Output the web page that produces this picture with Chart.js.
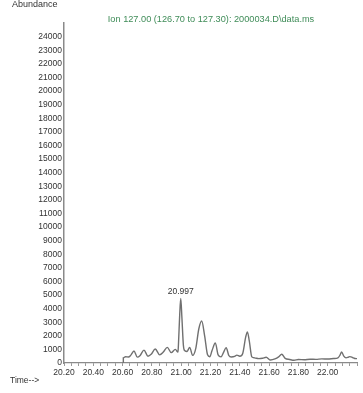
<!DOCTYPE html>
<html>
<head>
<meta charset="utf-8">
<script src="https://cdn.jsdelivr.net/npm/chart.js@4/dist/chart.umd.min.js"></script>
<style>
  html, body { margin: 0; padding: 0; background: #fff; }
  canvas { display: block; }
</style>
</head>
<body>
<canvas id="tic" width="363" height="393"></canvas>
<script>
// Extracted ion chromatogram, m/z 127.00 window
const ionTitle = 'Ion 127.00 (126.70 to 127.30): 2000034.D\\data.ms';
const yAxisTitle = 'Abundance';
const xAxisTitle = 'Time-->';

// retention time (min)
const times = [
  20.605, 20.605, 20.620, 20.640, 20.655, 20.678, 20.700, 20.720, 20.746, 20.773,
  20.795, 20.823, 20.853, 20.878, 20.905, 20.932, 20.960, 20.978, 20.981, 20.990,
  20.997, 21.005, 21.015, 21.025, 21.040, 21.058, 21.078, 21.100, 21.120, 21.140,
  21.160, 21.180, 21.195, 21.210, 21.233, 21.252, 21.272, 21.290, 21.307, 21.325,
  21.342, 21.365, 21.380, 21.400, 21.420, 21.440, 21.452, 21.465, 21.482, 21.500,
  21.530, 21.555, 21.580, 21.610, 21.640, 21.665, 21.686, 21.710, 21.740, 21.770,
  21.800, 21.840, 21.880, 21.920, 21.960, 22.000, 22.040, 22.070, 22.085, 22.095,
  22.110, 22.125, 22.140, 22.152, 22.170, 22.185, 22.200
];

// abundance (counts)
const abundances = [
  0, 380, 460, 440, 560, 880, 430, 560, 950, 500,
  640, 1030, 600, 800, 1150, 760, 1000, 800, 1300, 3600,
  4750, 3300, 1300, 900, 850, 1150, 560, 1100, 2500, 3090,
  2000, 600, 460, 900, 1470, 600, 450, 800, 1130, 550,
  440, 480, 580, 500, 700, 1900, 2290, 1600, 450, 380,
  320, 350, 420, 220, 300, 450, 640, 340, 260, 200,
  260, 240, 280, 270, 300, 290, 330, 380, 600, 810,
  500, 380, 420, 470, 400, 330, 320
];

// axis tick labels
const timeTickLabels = ['20.20', '20.40', '20.60', '20.80', '21.00', '21.20', '21.40', '21.60', '21.80', '22.00'];
const abundanceTickLabels = [0, 1000, 2000, 3000, 4000, 5000, 6000, 7000, 8000, 9000, 10000, 11000,
  12000, 13000, 14000, 15000, 16000, 17000, 18000, 19000, 20000, 21000, 22000, 23000, 24000];

const points = times.map((t, i) => ({ x: t, y: abundances[i] }));

// apex of the tallest peak gets its retention time printed
let apex = 0;
abundances.forEach((v, i) => { if (v > abundances[apex]) apex = i; });

const FONT = 'Liberation Sans, Arial, sans-serif';
const TEXT = '#333333';

const annotate = {
  id: 'annotate',
  afterDraw(chart) {
    const ctx = chart.ctx;
    const xs = chart.scales.x, ys = chart.scales.y;
    ctx.save();
    ctx.textBaseline = 'middle';

    ctx.fillStyle = TEXT;
    ctx.textAlign = 'left';
    ctx.font = '9px ' + FONT;
    ctx.fillText(yAxisTitle, 12, 5);
    ctx.font = '8.5px ' + FONT;
    ctx.fillText(xAxisTitle, 10, 381);

    ctx.fillStyle = '#3f8c58';
    ctx.textAlign = 'center';
    ctx.font = '9.2px ' + FONT;
    ctx.fillText(ionTitle, 211, 19);

    ctx.fillStyle = TEXT;
    ctx.font = '8.5px ' + FONT;
    ctx.fillText(times[apex].toFixed(3),
      xs.getPixelForValue(times[apex]),
      ys.getPixelForValue(abundances[apex]) - 7);
    ctx.restore();
  }
};

new Chart(document.getElementById('tic'), {
  type: 'line',
  data: {
    datasets: [{
      data: points,
      borderColor: '#707070',
      borderWidth: 1.4,
      pointRadius: 0,
      fill: false,
      cubicInterpolationMode: 'monotone'
    }]
  },
  options: {
    responsive: false,
    animation: false,
    devicePixelRatio: 1,
    layout: { padding: { top: 23, right: 6, left: 0, bottom: 0 } },
    plugins: { legend: { display: false }, tooltip: { enabled: false }, title: { display: false } },
    scales: {
      x: {
        type: 'linear',
        min: 20.2,
        max: 22.2,
        afterFit(scale) { scale.height = 30; },
        afterBuildTicks(scale) {
          const ticks = [];
          for (let i = 0; i <= 40; i++) ticks.push({ value: Math.round((20.2 + i * 0.05) * 100) / 100 });
          scale.ticks = ticks;
        },
        grid: { drawOnChartArea: false, drawTicks: true, tickLength: 3, color: '#9a9a9a' },
        border: { display: true, color: '#8a8a8a', width: 1.2 },
        ticks: {
          autoSkip: false,
          maxRotation: 0,
          padding: 2,
          color: TEXT,
          font: { family: FONT, size: 8.5 },
          callback(value) {
            const s = (Math.round(value * 100) / 100).toFixed(2);
            return timeTickLabels.includes(s) ? s : '';
          }
        }
      },
      y: {
        min: 0,
        max: 25000,
        afterFit(scale) { scale.width = 64; },
        afterBuildTicks(scale) {
          scale.ticks = abundanceTickLabels.map(v => ({ value: v }));
        },
        grid: { drawOnChartArea: false, drawTicks: false },
        border: { display: true, color: '#8a8a8a', width: 1.5 },
        ticks: {
          padding: 2,
          color: TEXT,
          font: { family: FONT, size: 8.5 },
          callback(value) { return String(value); }
        }
      }
    }
  },
  plugins: [annotate]
});
</script>
</body>
</html>
